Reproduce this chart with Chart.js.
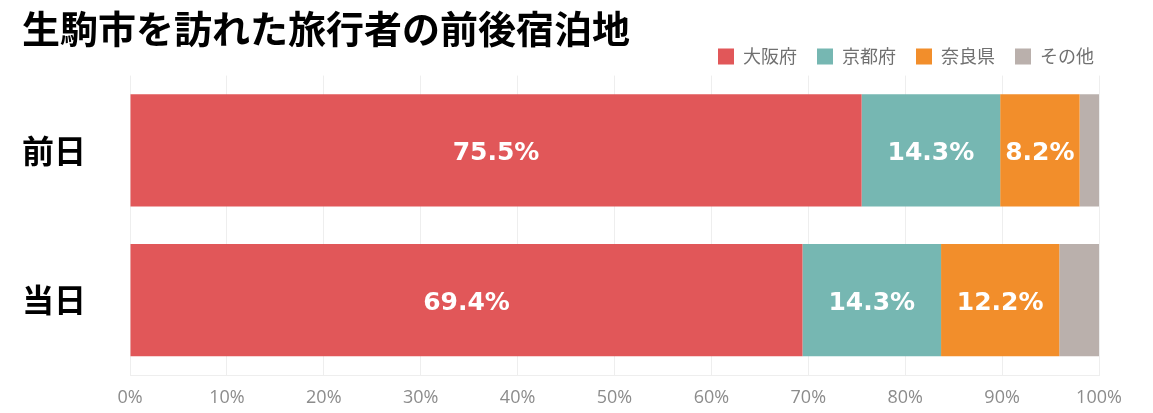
<!DOCTYPE html>
<html lang="ja">
<head>
    <meta charset="UTF-8">
    <title>生駒市を訪れた旅行者の前後宿泊地</title>
    <script src="https://cdn.jsdelivr.net/npm/chart.js"></script>
    <style>
        html, body { margin: 0; padding: 0; background: #fff; }
        .chart-container { width: 1153px; height: 413px; position: relative; }
    </style>
</head>
<body>
    <div class="chart-container"><canvas id="chart"></canvas></div>
    <script>
        // data (percent)
        const categories = ["前日", "当日"];
        const seriesNames = ["大阪府", "京都府", "奈良県", "その他"];
        const osaka = [75.5, 69.4];
        const kyoto = [14.3, 14.3];
        const nara = [8.2, 12.2];
        const other = [2.0, 4.1];
        const colors = ["#e15759", "#76b7b2", "#f28e2b", "#bab0ac"];

        // white value labels inside the segments (not for その他)
        const segmentLabels = {
            id: "segmentLabels",
            afterDatasetsDraw(chart) {
                const ctx = chart.ctx;
                ctx.save();
                ctx.fillStyle = "#fff";
                ctx.font = "bold 25px 'DejaVu Sans'";
                ctx.textAlign = "center";
                ctx.textBaseline = "middle";
                chart.data.datasets.forEach((ds, i) => {
                    if (i === 3) return;
                    const meta = chart.getDatasetMeta(i);
                    meta.data.forEach((bar, j) => {
                        const p = bar.getCenterPoint();
                        ctx.fillText(ds.data[j].toFixed(1) + "%", p.x, p.y + 3);
                    });
                });
                ctx.restore();
            }
        };

        // push the legend a bit further right, like the original
        const legendShift = {
            id: "legendShift",
            afterLayout(chart) {
                if (chart.legend) {
                    chart.legend.left += 15;
                    chart.legend.right += 15;
                }
            }
        };

        const seriesData = [osaka, kyoto, nara, other];

        new Chart(document.getElementById("chart"), {
            type: "bar",
            data: {
                labels: categories,
                datasets: seriesNames.map((name, i) => ({
                    label: name,
                    data: seriesData[i],
                    backgroundColor: colors[i],
                    borderWidth: 0,
                    categoryPercentage: 1.0,
                    barPercentage: 0.75
                }))
            },
            plugins: [segmentLabels, legendShift],
            options: {
                indexAxis: "y",
                responsive: true,
                maintainAspectRatio: false,
                animation: false,
                layout: { padding: { left: 22, right: 54, top: 0, bottom: 0 } },
                plugins: {
                    title: {
                        display: true,
                        text: "生駒市を訪れた旅行者の前後宿泊地",
                        align: "start",
                        color: "#000",
                        font: { family: "'Noto Sans CJK JP'", size: 38, weight: "bold" },
                        padding: { top: 6, bottom: -24 }
                    },
                    legend: {
                        position: "top",
                        align: "end",
                        labels: {
                            boxWidth: 16,
                            boxHeight: 16,
                            padding: 20,
                            color: "#707070",
                            font: { family: "'Noto Sans CJK JP'", size: 18 }
                        }
                    },
                    tooltip: { enabled: false }
                },
                scales: {
                    x: {
                        stacked: true,
                        min: 0,
                        max: 100,
                        afterFit: scale => { scale.height = 38; },
                        ticks: {
                            stepSize: 10,
                            padding: 12,
                            color: "#8c8c8c",
                            font: { family: "'Open Sans'", size: 18 },
                            callback: v => v + "%"
                        },
                        grid: { color: "#eeeeee", drawTicks: false },
                        border: { color: "#eeeeee" }
                    },
                    y: {
                        stacked: true,
                        afterFit: scale => { scale.width = 108; },
                        ticks: {
                            color: "#000",
                            crossAlign: "far",
                            font: { family: "'Noto Sans CJK JP'", size: 32, weight: "bold" }
                        },
                        grid: { display: false },
                        border: { display: false }
                    }
                }
            }
        });
    </script>
</body>
</html>
